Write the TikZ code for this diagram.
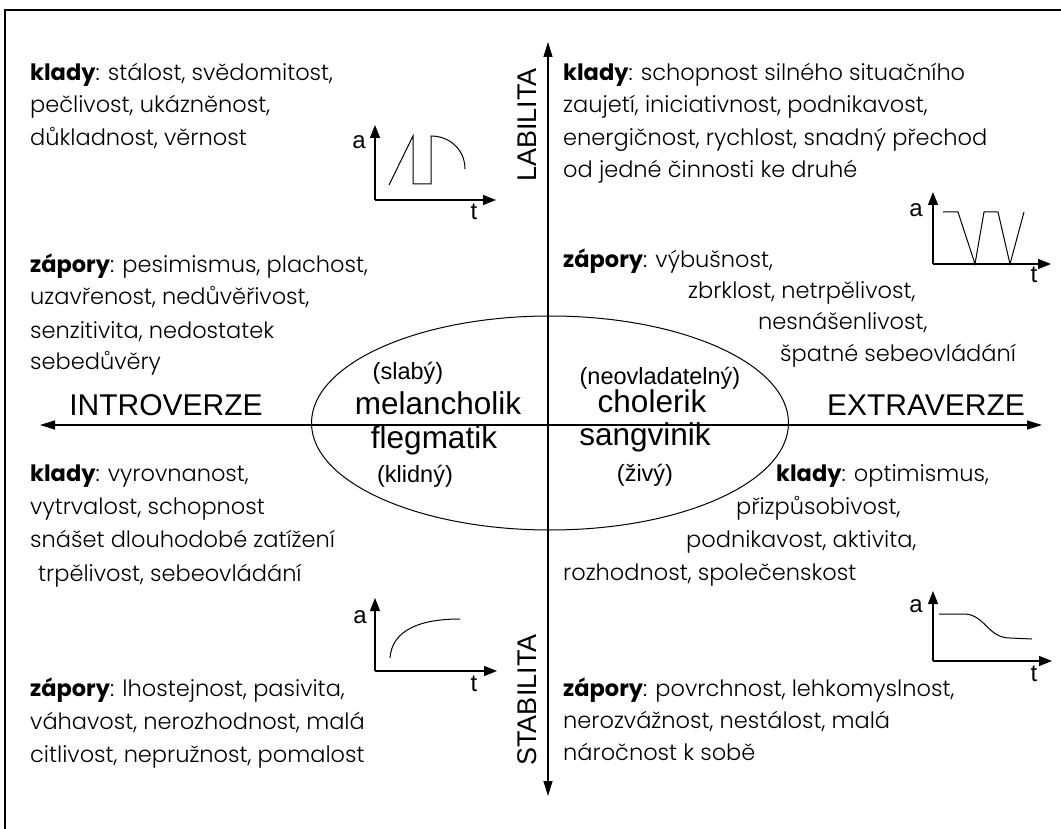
\documentclass[tikz,border=0pt]{standalone}
\usepackage{fontspec}
\setmainfont{Liberation Sans}
\newfontfamily\pop{Poppins Light}[BoldFont={Poppins Bold}]
\usetikzlibrary{arrows.meta,shapes.geometric}
\tikzset{
  body/.style={font=\pop\fontsize{22.5}{24}\selectfont, anchor=base west, inner sep=0pt},
  big/.style={font=\fontsize{31.5}{33}\selectfont, inner sep=0pt},
  hlab/.style={font=\fontsize{30}{32}\selectfont, inner sep=0pt},
  paren/.style={font=\fontsize{23.5}{25}\selectfont, inner sep=0pt},
  axlab/.style={font=\fontsize{27}{29}\selectfont, inner sep=0pt, rotate=90},
  gl/.style={font=\fontsize{24}{26}\selectfont, inner sep=0pt},
  mainax/.style={line width=1.3pt, {Triangle[length=15pt,width=9pt]}-{Triangle[length=15pt,width=9pt]}},
  gax/.style={line width=1.1pt, -{Triangle[length=13pt,width=10pt]}},
  gcurve/.style={line width=1pt}
}
\begin{document}
\begin{tikzpicture}[x=1pt,y=-1pt]
\useasboundingbox (0,0) rectangle (1061,829);
% frame
\coordinate (f1) at (5,829); \coordinate (f2) at (5,10); \coordinate (f3) at (1061,10);
\draw[line width=2pt] (f1) -- (f2) -- (f3);
% main axes
\coordinate (T) at (548,42); \coordinate (B) at (548,796);
\coordinate (L) at (40,425); \coordinate (R) at (1042,425);
\draw[mainax] (L) -- (R);
\draw[mainax] (B) -- (T);
\node[axlab] (lab) at (527,125) {LABILITA};
\node[axlab] (stab) at (527,700) {STABILITA};
\node[hlab] (intro) at (166,405) {INTROVERZE};
\node[hlab] (extra) at (926,405) {EXTRAVERZE};
% ellipse
\node[draw, ellipse, line width=1pt, minimum width=477pt, minimum height=214pt, inner sep=0pt] (E) at (550,423) {};
\node[paren] (slaby) at (408,373) {(slabý)};
\node[big] (mel) at (438,403) {melancholik};
\node[big] (fleg) at (434,440) {flegmatik};
\node[paren] (klidny) at (415,476) {(klidný)};
\node[paren] (neovl) at (660,378) {(neovladatelný)};
\node[big] (chol) at (652,401) {cholerik};
\node[big] (sang) at (645,437) {sangvinik};
\node[paren] (zivy) at (645,475) {(živý)};
% top-left text
\node[body] (a1) at (30,81) {\textbf{klady}: stálost, svědomitost,};
\node[body] (a2) at (30,113) {pečlivost, ukázněnost,};
\node[body] (a3) at (30,146) {důkladnost, věrnost};
\node[body] (b1) at (30,273) {\textbf{zápory}: pesimismus, plachost,};
\node[body] (b2) at (30,305) {uzavřenost, nedůvěřivost,};
\node[body] (b3) at (30,338) {senzitivita, nedostatek};
\node[body] (b4) at (30,370) {sebedůvěry};
% bottom-left text
\node[body] (c1) at (30,481) {\textbf{klady}: vyrovnanost,};
\node[body] (c2) at (30,514) {vytrvalost, schopnost};
\node[body] (c3) at (30,547) {snášet dlouhodobé zatížení};
\node[body] (c4) at (38,581) {trpělivost, sebeovládání};
\node[body] (d1) at (30,696) {\textbf{zápory}: lhostejnost, pasivita,};
\node[body] (d2) at (30,729) {váhavost, nerozhodnost, malá};
\node[body] (d3) at (30,762) {citlivost, nepružnost, pomalost};
% top-right text
\node[body] (e1) at (563,81) {\textbf{klady}: schopnost silného situačního};
\node[body] (e2) at (563,113) {zaujetí, iniciativnost, podnikavost,};
\node[body] (e3) at (563,146) {energičnost, rychlost, snadný přechod};
\node[body] (e4) at (563,178) {od jedné činnosti ke druhé};
\node[body] (g1) at (563,268) {\textbf{zápory}: výbušnost,};
\node[body] (g2) at (688,299) {zbrklost, netrpělivost,};
\node[body] (g3) at (758,330) {nesnášenlivost,};
\node[body] (g4) at (780,361) {špatné sebeovládání};
% bottom-right text
\node[body] (h1) at (776,481) {\textbf{klady}: optimismus,};
\node[body] (h2) at (736,514) {přizpůsobivost,};
\node[body] (h3) at (686,547) {podnikavost, aktivita,};
\node[body] (h4) at (563,580) {rozhodnost, společenskost};
\node[body] (k1) at (563,696) {\textbf{zápory}: povrchnost, lehkomyslnost,};
\node[body] (k2) at (563,728) {nerozvážnost, nestálost, malá};
\node[body] (k3) at (563,760) {náročnost k sobě};
% graph TL
\coordinate (o1) at (375,200); \coordinate (y1) at (375,125); \coordinate (x1) at (496,200);
\draw[gax] (o1) -- (y1);
\draw[gax] (o1) -- (x1);
\node[gl] (ga1) at (359,142) {a};
\node[gl] (gt1) at (474,212) {t};
\draw[gcurve] (389,185) -- (413,136) -- (413,184) -- (431,184) -- (431,136)
  .. controls (450,136) and (465,150) .. (465,169);
% graph TR
\coordinate (o2) at (933,264); \coordinate (y2) at (933,192); \coordinate (x2) at (1051,264);
\draw[gax] (o2) -- (y2);
\draw[gax] (o2) -- (x2);
\node[gl] (ga2) at (916,210) {a};
\node[gl] (gt2) at (1034,275) {t};
\draw[gcurve] (943,212) -- (958,212) -- (975,264) -- (984,212) -- (998,212) -- (1010,264) -- (1024,212);
% graph BL
\coordinate (o3) at (375,671); \coordinate (y3) at (375,598); \coordinate (x3) at (497,671);
\draw[gax] (o3) -- (y3);
\draw[gax] (o3) -- (x3);
\node[gl] (ga3) at (360,617) {a};
\node[gl] (gt3) at (474,684) {t};
\draw[gcurve] (390,658) .. controls (392,630) and (420,619) .. (460,619);
% graph BR
\coordinate (o4) at (933,661); \coordinate (y4) at (933,591); \coordinate (x4) at (1052,661);
\draw[gax] (o4) -- (y4);
\draw[gax] (o4) -- (x4);
\node[gl] (ga4) at (916,606) {a};
\node[gl] (gt4) at (1034,674) {t};
\draw[gcurve] (939,614) -- (965,614) .. controls (985,615) and (988,638) .. (1010,638) -- (1032,639);
\end{tikzpicture}
\end{document}
